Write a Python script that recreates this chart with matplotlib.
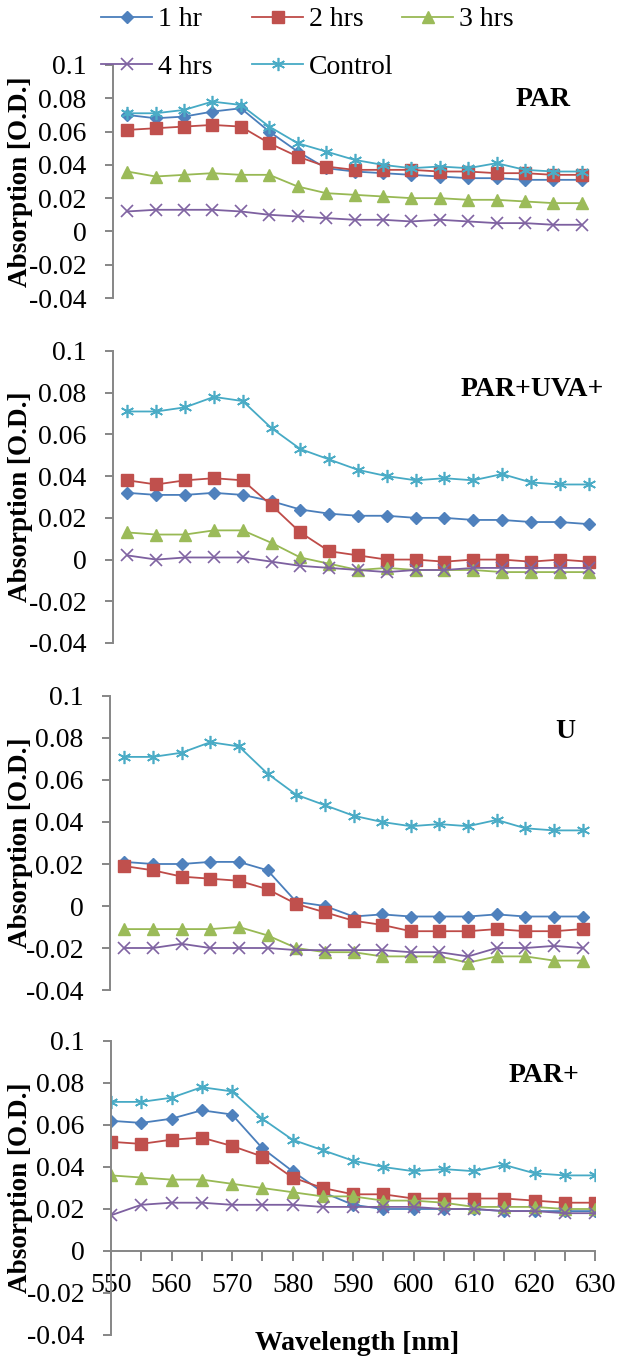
import matplotlib
matplotlib.use("Agg")
import matplotlib.pyplot as plt
from matplotlib.ticker import MultipleLocator

plt.rcParams['font.family'] = ['Liberation Serif', 'DejaVu Serif']
plt.rcParams['axes.unicode_minus'] = False

W, H = 618, 1358

# data
wavelength = [550, 555, 560, 565, 570, 575, 580, 585, 590, 595, 600, 605, 610, 615, 620, 625, 630]
control = [0.071, 0.071, 0.073, 0.078, 0.076, 0.063, 0.053, 0.048, 0.043, 0.040,
           0.038, 0.039, 0.038, 0.041, 0.037, 0.036, 0.036]

par_1hr = [0.070, 0.068, 0.069, 0.072, 0.074, 0.060, 0.048, 0.038, 0.036, 0.035,
           0.034, 0.033, 0.032, 0.032, 0.031, 0.031, 0.031]
par_2hrs = [0.061, 0.062, 0.063, 0.064, 0.063, 0.053, 0.045, 0.039, 0.037, 0.037,
            0.037, 0.036, 0.036, 0.035, 0.035, 0.034, 0.034]
par_3hrs = [0.036, 0.033, 0.034, 0.035, 0.034, 0.034, 0.027, 0.023, 0.022, 0.021,
            0.020, 0.020, 0.019, 0.019, 0.018, 0.017, 0.017]
par_4hrs = [0.012, 0.013, 0.013, 0.013, 0.012, 0.010, 0.009, 0.008, 0.007, 0.007,
            0.006, 0.007, 0.006, 0.005, 0.005, 0.004, 0.004]

uva_1hr = [0.032, 0.031, 0.031, 0.032, 0.031, 0.028, 0.024, 0.022, 0.021, 0.021,
           0.020, 0.020, 0.019, 0.019, 0.018, 0.018, 0.017]
uva_2hrs = [0.038, 0.036, 0.038, 0.039, 0.038, 0.026, 0.013, 0.004, 0.002, 0.000,
            0.000, -0.001, 0.000, 0.000, -0.001, 0.000, -0.001]
uva_3hrs = [0.013, 0.012, 0.012, 0.014, 0.014, 0.008, 0.001, -0.002, -0.005, -0.004,
            -0.005, -0.005, -0.005, -0.006, -0.006, -0.006, -0.006]
uva_4hrs = [0.002, 0.000, 0.001, 0.001, 0.001, -0.001, -0.003, -0.004, -0.005, -0.006,
            -0.005, -0.005, -0.004, -0.004, -0.004, -0.004, -0.004]

u_1hr = [0.021, 0.020, 0.020, 0.021, 0.021, 0.017, 0.002, 0.000, -0.005, -0.004,
         -0.005, -0.005, -0.005, -0.004, -0.005, -0.005, -0.005]
u_2hrs = [0.019, 0.017, 0.014, 0.013, 0.012, 0.008, 0.001, -0.003, -0.007, -0.009,
          -0.012, -0.012, -0.012, -0.011, -0.012, -0.012, -0.011]
u_3hrs = [-0.011, -0.011, -0.011, -0.011, -0.010, -0.014, -0.020, -0.022, -0.022, -0.024,
          -0.024, -0.024, -0.027, -0.024, -0.024, -0.026, -0.026]
u_4hrs = [-0.020, -0.020, -0.018, -0.020, -0.020, -0.020, -0.021, -0.021, -0.021, -0.021,
          -0.022, -0.022, -0.024, -0.020, -0.020, -0.019, -0.020]

parp_1hr = [0.062, 0.061, 0.063, 0.067, 0.065, 0.049, 0.038, 0.028, 0.022, 0.020,
            0.020, 0.020, 0.020, 0.019, 0.019, 0.019, 0.019]
parp_2hrs = [0.052, 0.051, 0.053, 0.054, 0.050, 0.045, 0.035, 0.030, 0.027, 0.027,
             0.025, 0.025, 0.025, 0.025, 0.024, 0.023, 0.023]
parp_3hrs = [0.036, 0.035, 0.034, 0.034, 0.032, 0.030, 0.028, 0.026, 0.026, 0.024,
             0.024, 0.023, 0.021, 0.021, 0.021, 0.020, 0.020]
parp_4hrs = [0.017, 0.022, 0.023, 0.023, 0.022, 0.022, 0.022, 0.021, 0.021, 0.021,
             0.021, 0.020, 0.020, 0.019, 0.019, 0.018, 0.018]

series_names = ["1 hr", "2 hrs", "3 hrs", "4 hrs", "Control"]
panel_titles = ["PAR", "PAR+UVA+", "U", "PAR+"]
panel_data = [
    [par_1hr, par_2hrs, par_3hrs, par_4hrs, control],
    [uva_1hr, uva_2hrs, uva_3hrs, uva_4hrs, control],
    [u_1hr, u_2hrs, u_3hrs, u_4hrs, control],
    [parp_1hr, parp_2hrs, parp_3hrs, parp_4hrs, control],
]
yticks = [-0.04, -0.02, 0, 0.02, 0.04, 0.06, 0.08, 0.1]

styles = [
    dict(color='#4A7EBB', marker='D', ms=6.5, mfc='#4F81BD', mec='#4F81BD'),
    dict(color='#BE4B48', marker='s', ms=8, mfc='#C0504D', mec='#C0504D'),
    dict(color='#98B954', marker='^', ms=9, mfc='#9BBB59', mec='#9BBB59'),
    dict(color='#7D60A0', marker='x', ms=8, mec='#8064A2', mew=1.2),
    dict(color='#46AAC5', marker=(6, 2, 0), ms=9.5, mec='#4BACC6', mew=1.2),
]

# axes boxes in pixels: left, right, top, bottom
boxes = [(113, 596, 65, 298), (113, 603, 351, 643), (110, 597, 696, 990), (111, 595, 1041, 1335)]
title_pos = [(543, 99), (532, 389), (565, 732), (544, 1076)]
axis_grey = '#868686'

fig = plt.figure(figsize=(W / 100, H / 100), dpi=100)
handles = []
for i, (box, data) in enumerate(zip(boxes, panel_data)):
    l, r, t, b = box
    ax = fig.add_axes([l / W, 1 - b / H, (r - l) / W, (b - t) / H])
    ax.patch.set_alpha(0)
    for name, ys, st in zip(series_names, data, styles):
        ln, = ax.plot(wavelength, ys, lw=1.3, label=name, **st)
        if i == 0:
            handles.append(ln)
    ax.set_ylim(-0.04, 0.1)
    ax.set_yticks(yticks)
    ax.set_yticklabels([f"{v:g}" for v in yticks])
    for s in ('top', 'right'):
        ax.spines[s].set_visible(False)
    ax.spines['left'].set_color(axis_grey)
    ax.spines['left'].set_linewidth(1.4)
    ax.tick_params(axis='y', direction='out', length=6, width=1.4, color=axis_grey,
                   labelsize=20, pad=13)
    if i < 3:
        ax.set_xlim(547.5, 632.5)
        ax.spines['bottom'].set_visible(False)
        ax.set_xticks([])
    else:
        ax.set_xlim(550, 630)
        ax.spines['bottom'].set_position(('data', 0))
        ax.spines['bottom'].set_color(axis_grey)
        ax.spines['bottom'].set_linewidth(1.4)
        ax.xaxis.set_major_locator(MultipleLocator(10))
        ax.xaxis.set_minor_locator(MultipleLocator(5))
        ax.tick_params(axis='x', which='both', direction='out', length=7, width=1.4,
                       color=axis_grey, labelsize=20, pad=9)
    fig.text(title_pos[i][0] / W, 1 - title_pos[i][1] / H, panel_titles[i],
             fontsize=20, fontweight='bold', ha='center', va='center')
    fig.text(21 / W, 1 - (t + b) / 2 / H, "Absorption [O.D.]", rotation=90,
             fontsize=19.5, fontweight='bold', ha='center', va='center')

fig.text(357 / W, 1 - 1343 / H, "Wavelength [nm]", fontsize=20, fontweight='bold',
         ha='center', va='center')

# legend: three columns, Excel row order
columns = [[0, 3], [1, 4], [2]]
col_x = [101, 252, 402]
for cols, x in zip(columns, col_x):
    fig.legend([handles[k] for k in cols], [series_names[k] for k in cols],
               loc='upper left', bbox_to_anchor=(x / W, 1 - 7 / H), frameon=False,
               fontsize=20, handlelength=1.85, handletextpad=0.2, labelspacing=0.78,
               borderpad=0, borderaxespad=0)

fig.savefig("out.png", dpi=100)
